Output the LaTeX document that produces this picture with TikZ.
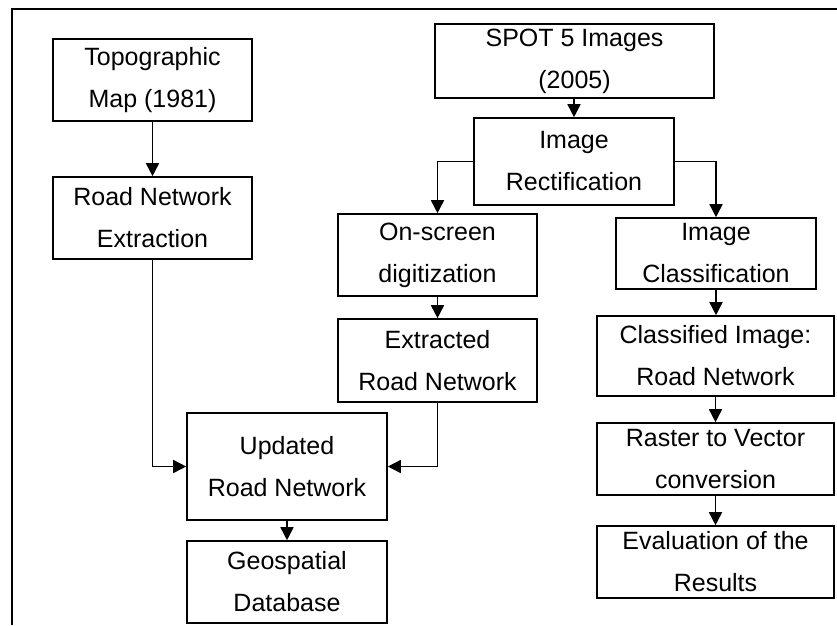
\documentclass[tikz,border=0pt]{standalone}
\usepackage{fontspec}
\setmainfont{Liberation Sans}
\usetikzlibrary{arrows.meta}

\begin{document}
\begin{tikzpicture}[x=1pt, y=-1pt, line width=1.6pt,
	box/.style={draw, rectangle, inner sep=0pt, align=center, font=\fontsize{25}{42}\selectfont},
	flow/.style={-{Triangle[length=13pt, width=13pt]}}]
	\useasboundingbox (0, 0) rectangle (837, 625);
	\draw (12, 625) -- (12, 9) -- (837, 9);
	\node[box, minimum width=199, minimum height=82] (0) at (152.5, 80) {Topographic\\Map (1981)};
	\node[box, minimum width=199, minimum height=82] (1) at (152.5, 218) {Road Network\\Extraction};
	\node[box, minimum width=279, minimum height=74] (2) at (574.5, 61) {SPOT 5 Images\\(2005)};
	\node[box, minimum width=200, minimum height=87] (3) at (574, 161.5) {Image\\Rectification};
	\node[box, minimum width=199, minimum height=82] (4) at (437.5, 255) {On-screen\\digitization};
	\node[box, minimum width=199, minimum height=83] (5) at (437.5, 360.5) {Extracted\\Road Network};
	\node[box, minimum width=200, minimum height=107] (6) at (287, 466.5) {Updated\\Road Network};
	\node[box, minimum width=200, minimum height=82] (7) at (287, 582) {Geospatial\\Database};
	\node[box, minimum width=200, minimum height=71] (8) at (716, 253.5) {Image\\Classification};
	\node[box, minimum width=237, minimum height=80] (9) at (715.5, 356) {Classified Image:\\Road Network};
	\node[box, minimum width=237, minimum height=72] (10) at (715.5, 459) {Raster to Vector\\conversion};
	\node[box, minimum width=237, minimum height=72] (11) at (715.5, 562) {Evaluation of the\\Results};
	\draw[flow] (0.south) to (1.north);
	\draw[flow] (1.south) |- (6.west);
	\draw[flow] (2.south -| 3.north) to (3.north);
	\draw[flow] (3.west) -| (4.north);
	\draw[flow] (3.east) -| (8.north);
	\draw[flow] (4.south) to (5.north);
	\draw[flow] (5.south) |- (6.east);
	\draw[flow] (6.south) to (7.north);
	\draw[flow] (8.south) to (8.south |- 9.north);
	\draw[flow] (9.south) to (10.north);
	\draw[flow] (10.south) to (11.north);
\end{tikzpicture}
\end{document}
